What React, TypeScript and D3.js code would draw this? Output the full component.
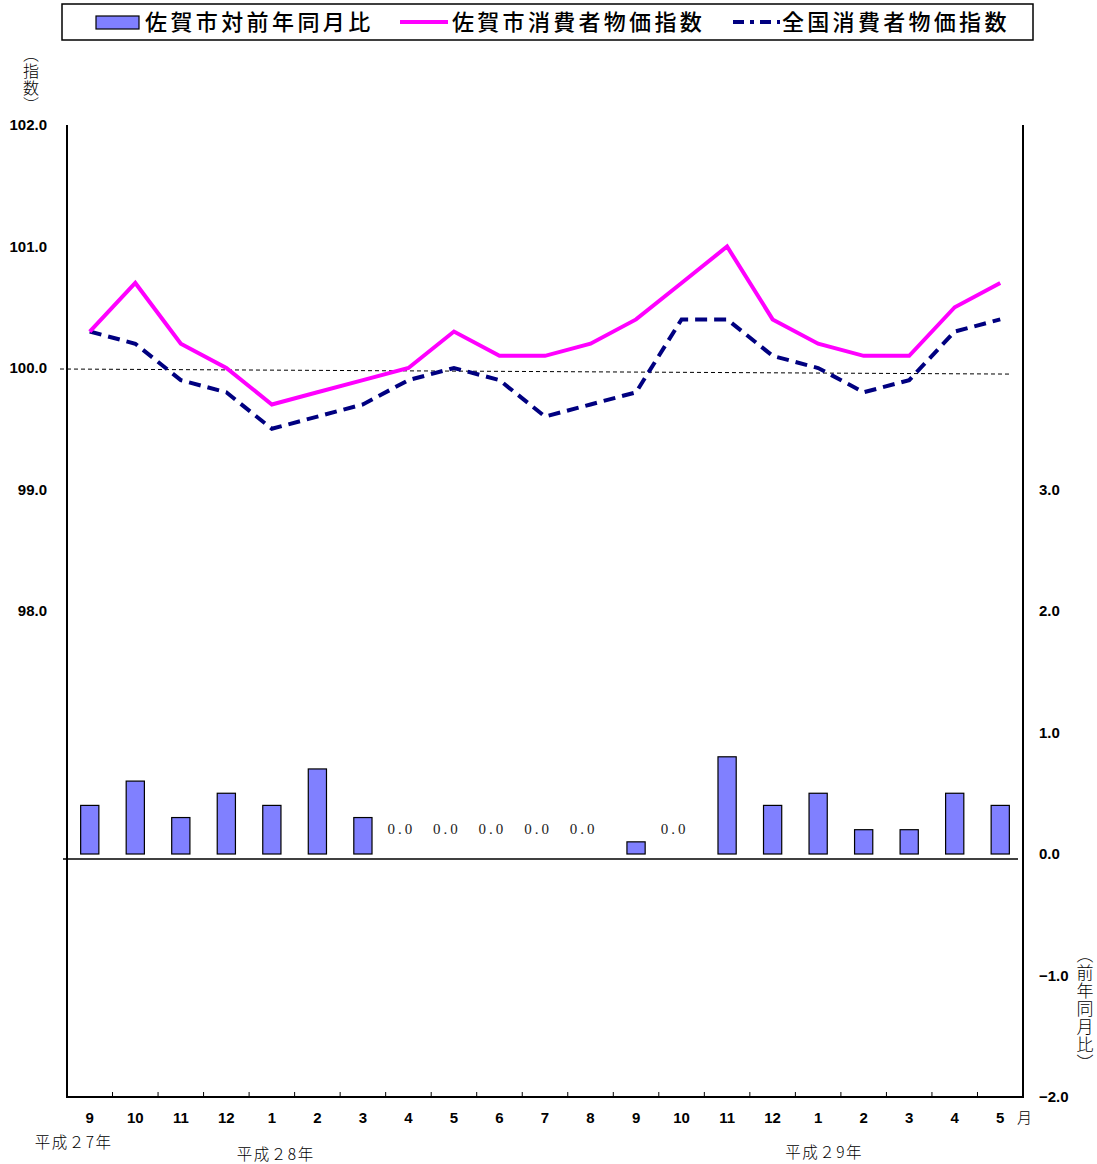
import * as d3 from "d3";

const months = ["9", "10", "11", "12", "1", "2", "3", "4", "5", "6", "7", "8", "9", "10", "11", "12", "1", "2", "3", "4", "5"];
const sagaYoY = [0.4, 0.6, 0.3, 0.5, 0.4, 0.7, 0.3, 0.0, 0.0, 0.0, 0.0, 0.0, 0.1, 0.0, 0.8, 0.4, 0.5, 0.2, 0.2, 0.5, 0.4];
const sagaCPI = [100.3, 100.7, 100.2, 100.0, 99.7, 99.8, 99.9, 100.0, 100.3, 100.1, 100.1, 100.2, 100.4, 100.7, 101.0, 100.4, 100.2, 100.1, 100.1, 100.5, 100.7];
const nationalCPI = [100.3, 100.2, 99.9, 99.8, 99.5, 99.6, 99.7, 99.9, 100.0, 99.9, 99.6, 99.7, 99.8, 100.4, 100.4, 100.1, 100.0, 99.8, 99.9, 100.3, 100.4];
const leftTicks = [98, 99, 100, 101, 102];
const rightTicks = [-2, -1, 0, 1, 2, 3];
const eraLabels = ["平成２7年", "平成２8年", "平成２9年"];
const eraAt = [0, 4, 16];
const legendLabels = ["佐賀市対前年同月比", "佐賀市消費者物価指数", "全国消費者物価指数"];

const W = 1097;
const H = 1164;
const plot = { left: 67, right: 1023, top: 125, bottom: 1097 };
const jp = "'Noto Sans CJK JP', sans-serif";
const num = "'Liberation Sans', Arial, sans-serif";
const serif = "'Liberation Serif', 'Noto Sans CJK JP', serif";

export default function App() {
  const idx = months.map((_, i) => String(i));
  const x = d3.scaleBand<string>().domain(idx).range([plot.left, plot.right]).padding(0);
  const yL = d3.scaleLinear().domain([94, 102]).range([plot.bottom, plot.top]);
  const yR = d3.scaleLinear().domain([-2, 6]).range([plot.bottom, plot.top]);
  const cx = (i: number) => (x(String(i)) ?? 0) + x.bandwidth() / 2;
  const barW = x.bandwidth() * 0.4;

  const line = d3
    .line<number>()
    .x((_, i) => cx(i))
    .y((d) => yL(d));

  // era labels sit a little lower/left in the original sheet
  const eraDx = [-55, -35, -33];
  const eraDy = [1143, 1155, 1153];

  return (
    <svg width={W} height={H} style={{ position: "absolute", left: 0, top: 0, background: "#fff" }}>
      {/* legend */}
      <rect x={62} y={4} width={971} height={36} fill="#fff" stroke="#000" strokeWidth={1.5} />
      <rect x={96} y={16} width={43} height={13} fill="#8080ff" stroke="#000" strokeWidth={1.2} />
      <text x={145} y={30} fontFamily={jp} fontSize={22} fontWeight={500} letterSpacing={3.4}>{legendLabels[0]}</text>
      <line x1={400} x2={448} y1={22} y2={22} stroke="#ff00ff" strokeWidth={4} />
      <text x={452} y={30} fontFamily={jp} fontSize={22} fontWeight={500} letterSpacing={3.3}>{legendLabels[1]}</text>
      <line x1={733} x2={780} y1={22} y2={22} stroke="#000080" strokeWidth={4} strokeDasharray="11,6,4,6" />
      <text x={782} y={30} fontFamily={jp} fontSize={22} fontWeight={500} letterSpacing={3.3}>{legendLabels[2]}</text>

      {/* axis titles */}
      <text x={31} y={46} fontFamily={jp} fontSize={16} fontWeight={300} letterSpacing={1} style={{ writingMode: "vertical-rl" }}>（指数）</text>
      <text x={1085} y={946} fontFamily={jp} fontSize={17} fontWeight={300} letterSpacing={1} style={{ writingMode: "vertical-rl" }}>（前年同月比）</text>

      {/* 100 reference line */}
      <line x1={60} x2={1010} y1={yL(100) + 1} y2={yL(99.95)} stroke="#000" strokeWidth={1} strokeDasharray="4,3" />

      {/* bars */}
      {sagaYoY.map((v, i) =>
        v > 0 ? (
          <rect
            key={"b" + i}
            x={cx(i) - barW / 2}
            y={yR(v)}
            width={barW}
            height={yR(0) - yR(v)}
            fill="#8080ff"
            stroke="#000"
            strokeWidth={1.2}
          />
        ) : (
          <text
            key={"z" + i}
            x={cx(i) - 7}
            y={yR(0) - 20}
            textAnchor="middle"
            fontFamily={serif}
            fontSize={15}
            letterSpacing={3}
            fill="#222"
          >
            {v.toFixed(1)}
          </text>
        )
      )}
      <line x1={63} x2={1018} y1={yR(0) + 5} y2={yR(0) + 5} stroke="#000" strokeWidth={1.3} />

      {/* lines */}
      <path d={line(nationalCPI) ?? ""} fill="none" stroke="#000080" strokeWidth={4} strokeDasharray="12,7" />
      <path d={line(sagaCPI) ?? ""} fill="none" stroke="#ff00ff" strokeWidth={4} strokeLinejoin="miter" />

      {/* axes */}
      <line x1={plot.left} x2={plot.left} y1={plot.top} y2={plot.bottom} stroke="#000" strokeWidth={2} />
      <line x1={plot.right} x2={plot.right} y1={plot.top} y2={plot.bottom} stroke="#000" strokeWidth={2} />
      <line x1={plot.left - 1} x2={plot.right + 1} y1={plot.bottom} y2={plot.bottom} stroke="#000" strokeWidth={2} />
      {idx.slice(1).map((k) => (
        <line key={"t" + k} x1={x(k)} x2={x(k)} y1={plot.bottom} y2={plot.bottom - 5} stroke="#000" strokeWidth={1} />
      ))}

      {leftTicks.map((t) => (
        <text key={"l" + t} x={47} y={yL(t)} dy="0.35em" textAnchor="end" fontFamily={num} fontSize={15} fontWeight="bold">
          {t.toFixed(1)}
        </text>
      ))}
      {rightTicks.map((t) => (
        <text key={"r" + t} x={1039} y={yR(t)} dy="0.35em" textAnchor="start" fontFamily={num} fontSize={15} fontWeight="bold">
          {t < 0 ? "−" + Math.abs(t).toFixed(1) : t.toFixed(1)}
        </text>
      ))}

      {months.map((m, i) => (
        <text key={"m" + i} x={cx(i)} y={1118} dy="0.35em" textAnchor="middle" fontFamily={num} fontSize={15} fontWeight="bold">
          {m}
        </text>
      ))}
      <text x={1017} y={1118} dy="0.35em" fontFamily={jp} fontSize={15} fontWeight={300}>月</text>

      {eraLabels.map((t, i) => (
        <text key={"e" + i} x={cx(eraAt[i]) + eraDx[i]} y={eraDy[i]} dy="0.35em" fontFamily={jp} fontSize={15.5} fontWeight={300} letterSpacing={1.5}>
          {t}
        </text>
      ))}
    </svg>
  );
}
